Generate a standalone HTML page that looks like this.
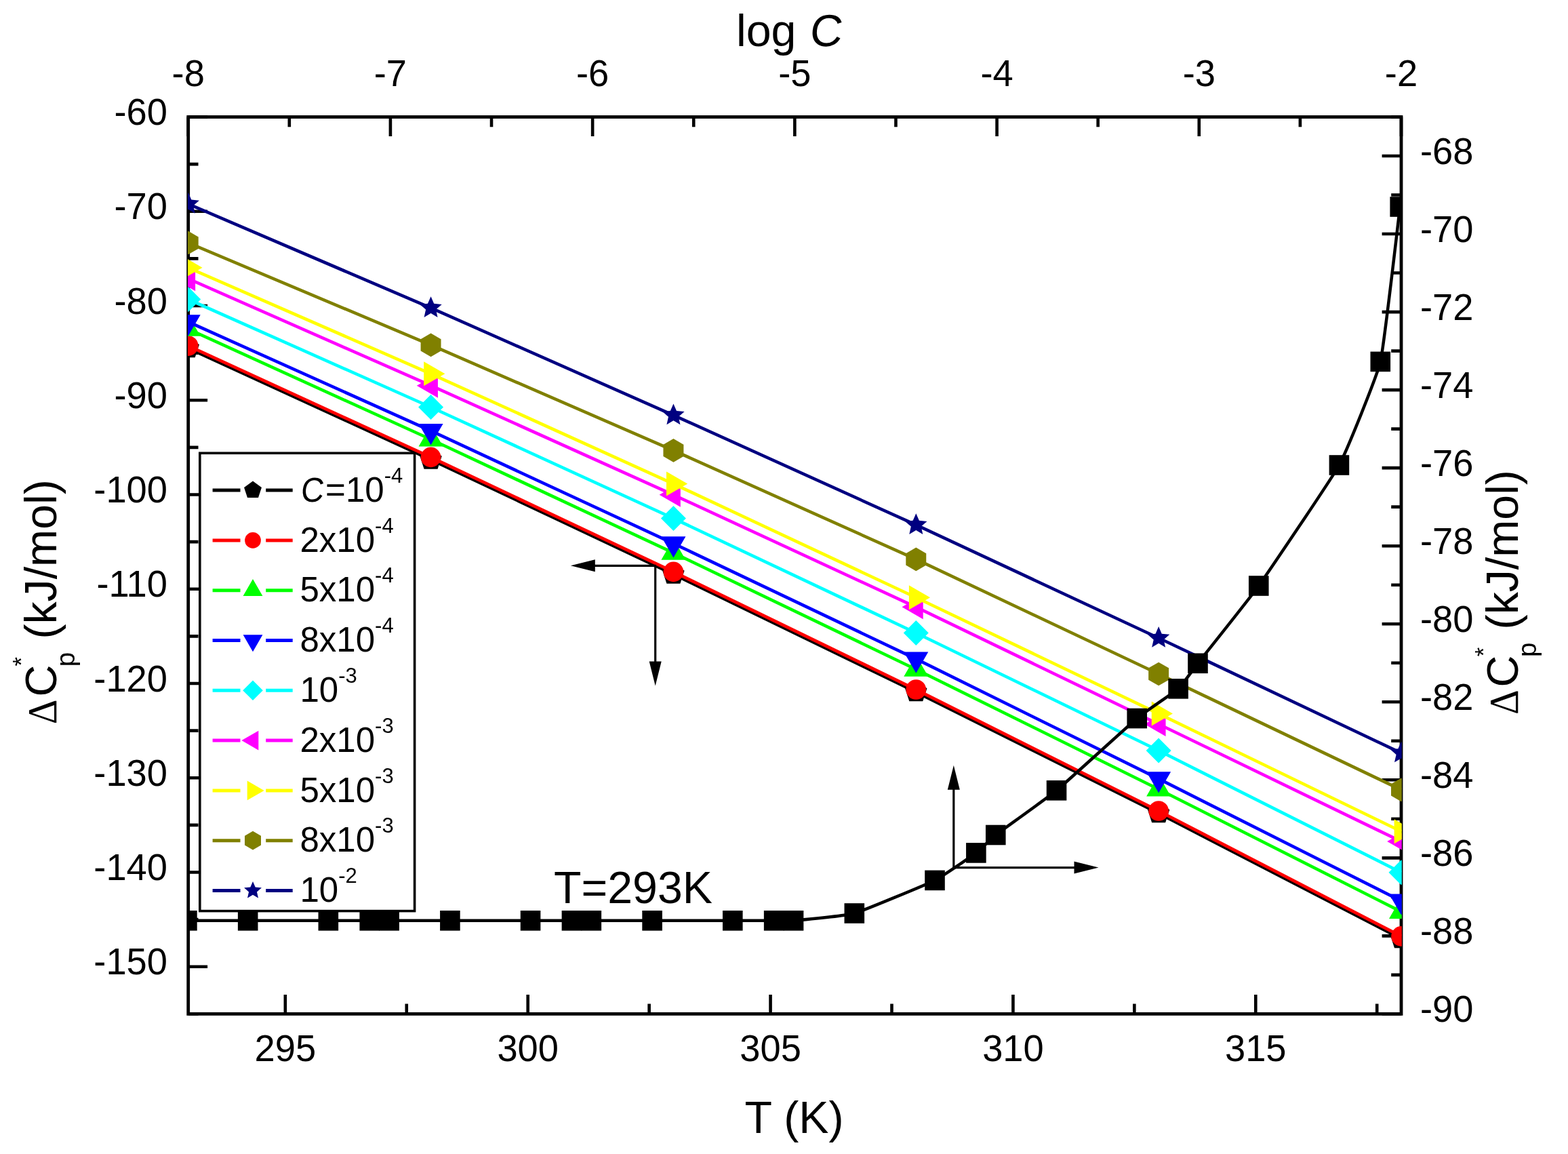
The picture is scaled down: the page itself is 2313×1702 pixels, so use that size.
<!DOCTYPE html><html><head><meta charset="utf-8"><style>html,body{margin:0;padding:0;background:#fff;overflow:hidden}svg{display:block}text{font-family:"Liberation Sans",Arial,sans-serif;fill:#000}</style></head><body>
<svg width="2313" height="1702" viewBox="0 0 2313 1702">
<rect width="2313" height="1702" fill="#fff"/>
<defs><clipPath id="pc"><rect x="277.00" y="172.50" width="1790.80" height="1322.90"/></clipPath></defs>
<rect x="277.70" y="172.50" width="1789.30" height="1322.90" fill="none" stroke="#000" stroke-width="4.8"/>
<path d="M420.84,1495.40L420.84,1467.00 M778.70,1495.40L778.70,1467.00 M1136.56,1495.40L1136.56,1467.00 M1494.42,1495.40L1494.42,1467.00 M1852.28,1495.40L1852.28,1467.00 M599.77,1495.40L599.77,1480.60 M957.63,1495.40L957.63,1480.60 M1315.49,1495.40L1315.49,1480.60 M1673.35,1495.40L1673.35,1480.60 M2031.21,1495.40L2031.21,1480.60 M277.70,172.50L306.10,172.50 M277.70,311.75L306.10,311.75 M277.70,451.01L306.10,451.01 M277.70,590.26L306.10,590.26 M277.70,729.51L306.10,729.51 M277.70,868.76L306.10,868.76 M277.70,1008.02L306.10,1008.02 M277.70,1147.27L306.10,1147.27 M277.70,1286.52L306.10,1286.52 M277.70,1425.77L306.10,1425.77 M277.70,242.13L292.50,242.13 M277.70,381.38L292.50,381.38 M277.70,520.63L292.50,520.63 M277.70,659.88L292.50,659.88 M277.70,799.14L292.50,799.14 M277.70,938.39L292.50,938.39 M277.70,1077.64L292.50,1077.64 M277.70,1216.89L292.50,1216.89 M277.70,1356.15L292.50,1356.15 M277.70,1495.40L292.50,1495.40" stroke="#000" stroke-width="4.6" fill="none"/>
<path d="M277.70,172.50L277.70,200.90 M575.92,172.50L575.92,200.90 M874.13,172.50L874.13,200.90 M1172.35,172.50L1172.35,200.90 M1470.57,172.50L1470.57,200.90 M1768.78,172.50L1768.78,200.90 M2067.00,172.50L2067.00,200.90 M426.81,172.50L426.81,187.30 M725.02,172.50L725.02,187.30 M1023.24,172.50L1023.24,187.30 M1321.46,172.50L1321.46,187.30 M1619.67,172.50L1619.67,187.30 M1917.89,172.50L1917.89,187.30 M2067.00,230.02L2038.60,230.02 M2067.00,345.05L2038.60,345.05 M2067.00,460.09L2038.60,460.09 M2067.00,575.12L2038.60,575.12 M2067.00,690.16L2038.60,690.16 M2067.00,805.19L2038.60,805.19 M2067.00,920.23L2038.60,920.23 M2067.00,1035.26L2038.60,1035.26 M2067.00,1150.30L2038.60,1150.30 M2067.00,1265.33L2038.60,1265.33 M2067.00,1380.37L2038.60,1380.37 M2067.00,1495.40L2038.60,1495.40 M2067.00,172.50L2052.20,172.50 M2067.00,287.53L2052.20,287.53 M2067.00,402.57L2052.20,402.57 M2067.00,517.60L2052.20,517.60 M2067.00,632.64L2052.20,632.64 M2067.00,747.67L2052.20,747.67 M2067.00,862.71L2052.20,862.71 M2067.00,977.74L2052.20,977.74 M2067.00,1092.78L2052.20,1092.78 M2067.00,1207.81L2052.20,1207.81 M2067.00,1322.85L2052.20,1322.85 M2067.00,1437.88L2052.20,1437.88" stroke="#000" stroke-width="4.6" fill="none"/>
<rect x="294.80" y="668.30" width="316.80" height="675.30" fill="#fff" stroke="#000" stroke-width="3.6"/>
<g clip-path="url(#pc)">
<polyline points="277.70,513.58 635.56,677.90 993.42,846.90 1351.28,1020.57 1709.14,1199.55 2067.00,1384.40" fill="none" stroke="#000000" stroke-width="4.6" stroke-linejoin="round"/>
<polygon points="277.70,496.58 293.87,508.33 287.69,527.34 267.71,527.34 261.53,508.33" fill="#000000"/>
<polygon points="635.56,660.90 651.73,672.65 645.55,691.65 625.57,691.65 619.39,672.65" fill="#000000"/>
<polygon points="993.42,829.90 1009.59,841.64 1003.41,860.65 983.43,860.65 977.25,841.64" fill="#000000"/>
<polygon points="1351.28,1003.57 1367.45,1015.32 1361.27,1034.32 1341.29,1034.32 1335.11,1015.32" fill="#000000"/>
<polygon points="1709.14,1182.55 1725.31,1194.30 1719.13,1213.30 1699.15,1213.30 1692.97,1194.30" fill="#000000"/>
<polygon points="2067.00,1367.40 2083.17,1379.15 2076.99,1398.15 2057.01,1398.15 2050.83,1379.15" fill="#000000"/>
<polyline points="277.70,510.08 635.56,674.40 993.42,843.40 1351.28,1017.07 1709.14,1196.05 2067.00,1380.90" fill="none" stroke="#FF0000" stroke-width="4.6" stroke-linejoin="round"/>
<circle cx="277.70" cy="510.08" r="14.80" fill="#FF0000"/>
<circle cx="635.56" cy="674.40" r="14.80" fill="#FF0000"/>
<circle cx="993.42" cy="843.40" r="14.80" fill="#FF0000"/>
<circle cx="1351.28" cy="1017.07" r="14.80" fill="#FF0000"/>
<circle cx="1709.14" cy="1196.05" r="14.80" fill="#FF0000"/>
<circle cx="2067.00" cy="1380.90" r="14.80" fill="#FF0000"/>
<polyline points="277.70,485.28 635.56,648.02 993.42,815.41 1351.28,987.24 1709.14,1164.00 2067.00,1344.64" fill="none" stroke="#00FF00" stroke-width="4.6" stroke-linejoin="round"/>
<polygon points="277.70,464.48 295.71,495.68 259.69,495.68" fill="#00FF00"/>
<polygon points="635.56,627.22 653.57,658.42 617.55,658.42" fill="#00FF00"/>
<polygon points="993.42,794.61 1011.43,825.81 975.41,825.81" fill="#00FF00"/>
<polygon points="1351.28,966.44 1369.29,997.64 1333.27,997.64" fill="#00FF00"/>
<polygon points="1709.14,1143.20 1727.15,1174.40 1691.13,1174.40" fill="#00FF00"/>
<polygon points="2067.00,1323.84 2085.01,1355.04 2048.99,1355.04" fill="#00FF00"/>
<polyline points="277.70,474.68 635.56,635.45 993.42,801.63 1351.28,971.89 1709.14,1148.68 2067.00,1328.78" fill="none" stroke="#0000FF" stroke-width="4.6" stroke-linejoin="round"/>
<polygon points="277.70,495.48 259.69,464.28 295.71,464.28" fill="#0000FF"/>
<polygon points="635.56,656.25 617.55,625.05 653.57,625.05" fill="#0000FF"/>
<polygon points="993.42,822.43 975.41,791.23 1011.43,791.23" fill="#0000FF"/>
<polygon points="1351.28,992.69 1333.27,961.49 1369.29,961.49" fill="#0000FF"/>
<polygon points="1709.14,1169.48 1691.13,1138.28 1727.15,1138.28" fill="#0000FF"/>
<polygon points="2067.00,1349.58 2048.99,1318.38 2085.01,1318.38" fill="#0000FF"/>
<polyline points="277.70,441.43 635.56,600.48 993.42,764.54 1351.28,933.54 1709.14,1106.99 2067.00,1286.71" fill="none" stroke="#00FFFF" stroke-width="4.6" stroke-linejoin="round"/>
<polygon points="277.70,422.93 296.20,441.43 277.70,459.93 259.20,441.43" fill="#00FFFF"/>
<polygon points="635.56,581.98 654.06,600.48 635.56,618.98 617.06,600.48" fill="#00FFFF"/>
<polygon points="993.42,746.04 1011.92,764.54 993.42,783.04 974.92,764.54" fill="#00FFFF"/>
<polygon points="1351.28,915.04 1369.78,933.54 1351.28,952.04 1332.78,933.54" fill="#00FFFF"/>
<polygon points="1709.14,1088.49 1727.64,1106.99 1709.14,1125.49 1690.64,1106.99" fill="#00FFFF"/>
<polygon points="2067.00,1268.21 2085.50,1286.71 2067.00,1305.21 2048.50,1286.71" fill="#00FFFF"/>
<polyline points="277.70,411.16 635.56,568.68 993.42,729.81 1351.28,895.35 1709.14,1068.02 2067.00,1241.03" fill="none" stroke="#FF00FF" stroke-width="4.6" stroke-linejoin="round"/>
<polygon points="256.90,411.16 288.10,393.15 288.10,429.17" fill="#FF00FF"/>
<polygon points="614.76,568.68 645.96,550.67 645.96,586.70" fill="#FF00FF"/>
<polygon points="972.62,729.81 1003.82,711.80 1003.82,747.83" fill="#FF00FF"/>
<polygon points="1330.48,895.35 1361.68,877.34 1361.68,913.36" fill="#FF00FF"/>
<polygon points="1688.34,1068.02 1719.54,1050.01 1719.54,1086.03" fill="#FF00FF"/>
<polygon points="2046.20,1241.03 2077.40,1223.02 2077.40,1259.05" fill="#FF00FF"/>
<polyline points="277.70,394.75 635.56,551.31 993.42,713.58 1351.28,881.28 1709.14,1052.60 2067.00,1226.28" fill="none" stroke="#FFFF00" stroke-width="4.6" stroke-linejoin="round"/>
<polygon points="298.50,394.75 267.30,412.77 267.30,376.74" fill="#FFFF00"/>
<polygon points="656.36,551.31 625.16,569.32 625.16,533.29" fill="#FFFF00"/>
<polygon points="1014.22,713.58 983.02,731.59 983.02,695.56" fill="#FFFF00"/>
<polygon points="1372.08,881.28 1340.88,899.30 1340.88,863.27" fill="#FFFF00"/>
<polygon points="1729.94,1052.60 1698.74,1070.62 1698.74,1034.59" fill="#FFFF00"/>
<polygon points="2087.80,1226.28 2056.60,1244.29 2056.60,1208.26" fill="#FFFF00"/>
<polyline points="277.70,358.04 635.56,508.85 993.42,664.33 1351.28,824.90 1709.14,993.99 2067.00,1164.88" fill="none" stroke="#808000" stroke-width="4.6" stroke-linejoin="round"/>
<polygon points="277.70,340.74 292.68,349.39 292.68,366.69 277.70,375.34 262.72,366.69 262.72,349.39" fill="#808000"/>
<polygon points="635.56,491.55 650.54,500.20 650.54,517.50 635.56,526.15 620.58,517.50 620.58,500.20" fill="#808000"/>
<polygon points="993.42,647.03 1008.40,655.68 1008.40,672.98 993.42,681.63 978.44,672.98 978.44,655.68" fill="#808000"/>
<polygon points="1351.28,807.60 1366.26,816.25 1366.26,833.55 1351.28,842.20 1336.30,833.55 1336.30,816.25" fill="#808000"/>
<polygon points="1709.14,976.69 1724.12,985.34 1724.12,1002.64 1709.14,1011.29 1694.16,1002.64 1694.16,985.34" fill="#808000"/>
<polygon points="2067.00,1147.58 2081.98,1156.23 2081.98,1173.53 2067.00,1182.18 2052.02,1173.53 2052.02,1156.23" fill="#808000"/>
<polyline points="277.70,300.92 635.56,454.13 993.42,612.38 1351.28,774.17 1709.14,940.99 2067.00,1110.60" fill="none" stroke="#000080" stroke-width="4.6" stroke-linejoin="round"/>
<polygon points="277.70,283.92 282.30,294.59 293.87,295.67 285.14,303.34 287.69,314.67 277.70,308.74 267.71,314.67 270.26,303.34 261.53,295.67 273.10,294.59" fill="#000080"/>
<polygon points="635.56,437.13 640.16,447.81 651.73,448.88 643.00,456.55 645.55,467.89 635.56,461.95 625.57,467.89 628.12,456.55 619.39,448.88 630.96,447.81" fill="#000080"/>
<polygon points="993.42,595.38 998.02,606.05 1009.59,607.12 1000.86,614.79 1003.41,626.13 993.42,620.20 983.43,626.13 985.98,614.79 977.25,607.12 988.82,606.05" fill="#000080"/>
<polygon points="1351.28,757.17 1355.88,767.85 1367.45,768.92 1358.72,776.59 1361.27,787.93 1351.28,781.99 1341.29,787.93 1343.84,776.59 1335.11,768.92 1346.68,767.85" fill="#000080"/>
<polygon points="1709.14,923.99 1713.74,934.67 1725.31,935.74 1716.58,943.41 1719.13,954.75 1709.14,948.81 1699.15,954.75 1701.70,943.41 1692.97,935.74 1704.54,934.67" fill="#000080"/>
<polygon points="2067.00,1093.60 2071.60,1104.28 2083.17,1105.35 2074.44,1113.02 2076.99,1124.36 2067.00,1118.42 2057.01,1124.36 2059.56,1113.02 2050.83,1105.35 2062.40,1104.28" fill="#000080"/>
</g>
<g clip-path="url(#pc)">
<path d="M275.90,1357.80 C281.14,1357.80 353.51,1357.80 365.67,1357.80 C377.83,1357.80 473.87,1357.80 484.34,1357.80 C494.82,1357.80 539.98,1357.80 545.22,1357.80 C550.45,1357.80 567.19,1357.80 574.12,1357.80 C581.04,1357.80 651.73,1357.80 663.89,1357.80 C676.05,1357.80 772.09,1357.80 782.56,1357.80 C793.03,1357.80 838.20,1357.80 843.43,1357.80 C848.67,1357.80 865.41,1357.80 872.33,1357.80 C879.26,1357.80 949.95,1357.80 962.11,1357.80 C974.26,1357.80 1070.30,1357.80 1080.78,1357.80 C1091.25,1357.80 1136.41,1357.80 1141.65,1357.80 C1146.89,1357.80 1163.63,1358.43 1170.55,1357.80 C1177.47,1357.17 1248.16,1350.46 1260.32,1347.00 C1272.48,1343.54 1368.52,1303.60 1378.99,1298.40 C1389.47,1293.20 1434.63,1261.80 1439.87,1257.90 C1445.10,1254.00 1461.84,1236.87 1468.77,1231.50 C1475.69,1226.13 1546.38,1175.83 1558.54,1165.80 C1570.70,1155.77 1666.74,1068.25 1677.21,1059.50 C1687.68,1050.75 1732.85,1020.54 1738.08,1015.80 C1743.32,1011.06 1760.06,987.15 1766.98,978.30 C1773.91,969.44 1844.60,881.05 1856.76,864.00 C1868.91,846.95 1964.95,705.28 1975.43,686.00 C1985.90,666.72 2031.06,555.62 2036.30,533.40 C2041.54,511.17 2063.51,318.32 2065.20,305.00" fill="none" stroke="#000" stroke-width="4.5" stroke-linejoin="round"/>
<rect x="261.10" y="1343.00" width="29.60" height="29.60" fill="#000"/>
<rect x="350.87" y="1343.00" width="29.60" height="29.60" fill="#000"/>
<rect x="469.54" y="1343.00" width="29.60" height="29.60" fill="#000"/>
<rect x="530.42" y="1343.00" width="29.60" height="29.60" fill="#000"/>
<rect x="559.32" y="1343.00" width="29.60" height="29.60" fill="#000"/>
<rect x="649.09" y="1343.00" width="29.60" height="29.60" fill="#000"/>
<rect x="767.76" y="1343.00" width="29.60" height="29.60" fill="#000"/>
<rect x="828.63" y="1343.00" width="29.60" height="29.60" fill="#000"/>
<rect x="857.53" y="1343.00" width="29.60" height="29.60" fill="#000"/>
<rect x="947.31" y="1343.00" width="29.60" height="29.60" fill="#000"/>
<rect x="1065.98" y="1343.00" width="29.60" height="29.60" fill="#000"/>
<rect x="1126.85" y="1343.00" width="29.60" height="29.60" fill="#000"/>
<rect x="1155.75" y="1343.00" width="29.60" height="29.60" fill="#000"/>
<rect x="1245.52" y="1332.20" width="29.60" height="29.60" fill="#000"/>
<rect x="1364.19" y="1283.60" width="29.60" height="29.60" fill="#000"/>
<rect x="1425.07" y="1243.10" width="29.60" height="29.60" fill="#000"/>
<rect x="1453.97" y="1216.70" width="29.60" height="29.60" fill="#000"/>
<rect x="1543.74" y="1151.00" width="29.60" height="29.60" fill="#000"/>
<rect x="1662.41" y="1044.70" width="29.60" height="29.60" fill="#000"/>
<rect x="1723.28" y="1001.00" width="29.60" height="29.60" fill="#000"/>
<rect x="1752.18" y="963.50" width="29.60" height="29.60" fill="#000"/>
<rect x="1841.96" y="849.20" width="29.60" height="29.60" fill="#000"/>
<rect x="1960.63" y="671.20" width="29.60" height="29.60" fill="#000"/>
<rect x="2021.50" y="518.60" width="29.60" height="29.60" fill="#000"/>
<rect x="2050.40" y="290.20" width="29.60" height="29.60" fill="#000"/>
</g>
<text transform="translate(420.84,1564.70) scale(1,1.025)" font-size="54.3" text-anchor="middle">295</text>
<text transform="translate(778.70,1564.70) scale(1,1.025)" font-size="54.3" text-anchor="middle">300</text>
<text transform="translate(1136.56,1564.70) scale(1,1.025)" font-size="54.3" text-anchor="middle">305</text>
<text transform="translate(1494.42,1564.70) scale(1,1.025)" font-size="54.3" text-anchor="middle">310</text>
<text transform="translate(1852.28,1564.70) scale(1,1.025)" font-size="54.3" text-anchor="middle">315</text>
<text transform="translate(277.70,127.00) scale(1,1.025)" font-size="54.3" text-anchor="middle">-8</text>
<text transform="translate(575.92,127.00) scale(1,1.025)" font-size="54.3" text-anchor="middle">-7</text>
<text transform="translate(874.13,127.00) scale(1,1.025)" font-size="54.3" text-anchor="middle">-6</text>
<text transform="translate(1172.35,127.00) scale(1,1.025)" font-size="54.3" text-anchor="middle">-5</text>
<text transform="translate(1470.57,127.00) scale(1,1.025)" font-size="54.3" text-anchor="middle">-4</text>
<text transform="translate(1768.78,127.00) scale(1,1.025)" font-size="54.3" text-anchor="middle">-3</text>
<text transform="translate(2067.00,127.00) scale(1,1.025)" font-size="54.3" text-anchor="middle">-2</text>
<text transform="translate(247.00,184.00) scale(1,1.025)" font-size="54.3" text-anchor="end">-60</text>
<text transform="translate(247.00,323.25) scale(1,1.025)" font-size="54.3" text-anchor="end">-70</text>
<text transform="translate(247.00,462.51) scale(1,1.025)" font-size="54.3" text-anchor="end">-80</text>
<text transform="translate(247.00,601.76) scale(1,1.025)" font-size="54.3" text-anchor="end">-90</text>
<text transform="translate(247.00,741.01) scale(1,1.025)" font-size="54.3" text-anchor="end">-100</text>
<text transform="translate(247.00,880.26) scale(1,1.025)" font-size="54.3" text-anchor="end">-110</text>
<text transform="translate(247.00,1019.52) scale(1,1.025)" font-size="54.3" text-anchor="end">-120</text>
<text transform="translate(247.00,1158.77) scale(1,1.025)" font-size="54.3" text-anchor="end">-130</text>
<text transform="translate(247.00,1298.02) scale(1,1.025)" font-size="54.3" text-anchor="end">-140</text>
<text transform="translate(247.00,1437.27) scale(1,1.025)" font-size="54.3" text-anchor="end">-150</text>
<text transform="translate(2095.00,242.02) scale(1,1.025)" font-size="54.3" text-anchor="start">-68</text>
<text transform="translate(2095.00,357.05) scale(1,1.025)" font-size="54.3" text-anchor="start">-70</text>
<text transform="translate(2095.00,472.09) scale(1,1.025)" font-size="54.3" text-anchor="start">-72</text>
<text transform="translate(2095.00,587.12) scale(1,1.025)" font-size="54.3" text-anchor="start">-74</text>
<text transform="translate(2095.00,702.16) scale(1,1.025)" font-size="54.3" text-anchor="start">-76</text>
<text transform="translate(2095.00,817.19) scale(1,1.025)" font-size="54.3" text-anchor="start">-78</text>
<text transform="translate(2095.00,932.23) scale(1,1.025)" font-size="54.3" text-anchor="start">-80</text>
<text transform="translate(2095.00,1047.26) scale(1,1.025)" font-size="54.3" text-anchor="start">-82</text>
<text transform="translate(2095.00,1162.30) scale(1,1.025)" font-size="54.3" text-anchor="start">-84</text>
<text transform="translate(2095.00,1277.33) scale(1,1.025)" font-size="54.3" text-anchor="start">-86</text>
<text transform="translate(2095.00,1392.37) scale(1,1.025)" font-size="54.3" text-anchor="start">-88</text>
<text transform="translate(2095.00,1507.40) scale(1,1.025)" font-size="54.3" text-anchor="start">-90</text>
<text x="1171.5" y="1670.7" font-size="66.3" text-anchor="middle">T (K)</text>
<text x="1086" y="67.6" font-size="66.3">log</text>
<text transform="translate(1192.9,67.6) skewX(-6)" font-size="66.3">C</text>
<g transform="translate(83.00,1066.10) rotate(-90)"><text transform="translate(-2.12,0) scale(0.92,1)" font-size="62" style="font-family:'Liberation Serif',serif">Δ</text><text x="38.5" y="0" font-size="65">C</text><text x="83.7" y="-39.9" font-size="35">*</text><text x="82.9" y="27" font-size="38.5">p</text><text x="123.5" y="0" font-size="66.2">(kJ/mol)</text></g>
<g transform="translate(2239.40,1051.90) rotate(-90)"><text transform="translate(-2.12,0) scale(0.92,1)" font-size="62" style="font-family:'Liberation Serif',serif">Δ</text><text x="38.5" y="0" font-size="65">C</text><text x="83.7" y="-39.9" font-size="35">*</text><text x="82.9" y="27" font-size="38.5">p</text><text x="123.5" y="0" font-size="66.2">(kJ/mol)</text></g>
<path d="M313.6,723.10L354.5,723.10M392.2,723.10L431.7,723.10" stroke="#000000" stroke-width="5"/>
<polygon points="373.00,709.50 385.93,718.90 380.99,734.10 365.01,734.10 360.07,718.90" fill="#000000"/>
<text transform="translate(442.6,739.70) skewX(-6) scale(0.92,1)" font-size="51">C</text>
<text x="480.12" y="739.70" font-size="51">=10<tspan font-size="31" dy="-28">-4</tspan></text>
<path d="M313.6,796.90L354.5,796.90M392.2,796.90L431.7,796.90" stroke="#FF0000" stroke-width="5"/>
<circle cx="373.00" cy="796.90" r="11.84" fill="#FF0000"/>
<text x="442.5" y="813.50" font-size="51">2x10<tspan font-size="31" dy="-28">-4</tspan></text>
<path d="M313.6,870.70L354.5,870.70M392.2,870.70L431.7,870.70" stroke="#00FF00" stroke-width="5"/>
<polygon points="373.00,854.06 387.41,879.02 358.59,879.02" fill="#00FF00"/>
<text x="442.5" y="887.30" font-size="51">5x10<tspan font-size="31" dy="-28">-4</tspan></text>
<path d="M313.6,944.50L354.5,944.50M392.2,944.50L431.7,944.50" stroke="#0000FF" stroke-width="5"/>
<polygon points="373.00,961.14 358.59,936.18 387.41,936.18" fill="#0000FF"/>
<text x="442.5" y="961.10" font-size="51">8x10<tspan font-size="31" dy="-28">-4</tspan></text>
<path d="M313.6,1018.30L354.5,1018.30M392.2,1018.30L431.7,1018.30" stroke="#00FFFF" stroke-width="5"/>
<polygon points="373.00,1003.50 387.80,1018.30 373.00,1033.10 358.20,1018.30" fill="#00FFFF"/>
<text x="442.5" y="1034.90" font-size="51">10<tspan font-size="31" dy="-28">-3</tspan></text>
<path d="M313.6,1092.10L354.5,1092.10M392.2,1092.10L431.7,1092.10" stroke="#FF00FF" stroke-width="5"/>
<polygon points="356.36,1092.10 381.32,1077.69 381.32,1106.51" fill="#FF00FF"/>
<text x="442.5" y="1108.70" font-size="51">2x10<tspan font-size="31" dy="-28">-3</tspan></text>
<path d="M313.6,1165.90L354.5,1165.90M392.2,1165.90L431.7,1165.90" stroke="#FFFF00" stroke-width="5"/>
<polygon points="389.64,1165.90 364.68,1180.31 364.68,1151.49" fill="#FFFF00"/>
<text x="442.5" y="1182.50" font-size="51">5x10<tspan font-size="31" dy="-28">-3</tspan></text>
<path d="M313.6,1239.70L354.5,1239.70M392.2,1239.70L431.7,1239.70" stroke="#808000" stroke-width="5"/>
<polygon points="373.00,1225.86 384.99,1232.78 384.99,1246.62 373.00,1253.54 361.01,1246.62 361.01,1232.78" fill="#808000"/>
<text x="442.5" y="1256.30" font-size="51">8x10<tspan font-size="31" dy="-28">-3</tspan></text>
<path d="M313.6,1313.50L354.5,1313.50M392.2,1313.50L431.7,1313.50" stroke="#000080" stroke-width="5"/>
<polygon points="373.00,1299.90 376.68,1308.44 385.93,1309.30 378.95,1315.43 380.99,1324.50 373.00,1319.76 365.01,1324.50 367.05,1315.43 360.07,1309.30 369.32,1308.44" fill="#000080"/>
<text x="442.5" y="1330.10" font-size="51">10<tspan font-size="31" dy="-28">-2</tspan></text>
<path d="M967.50,834.30L875.80,834.30" stroke="#000" stroke-width="3.2"/><polygon points="841.80,834.30 877.80,825.30 877.80,843.30" fill="#000"/>
<path d="M966.70,834.30L966.70,977.60" stroke="#000" stroke-width="3.2"/><polygon points="966.70,1011.60 957.70,975.60 975.70,975.60" fill="#000"/>
<path d="M1406.80,1279.60L1406.80,1162.70" stroke="#000" stroke-width="3.2"/><polygon points="1406.80,1128.70 1415.80,1164.70 1397.80,1164.70" fill="#000"/>
<path d="M1406.80,1279.60L1586.50,1279.60" stroke="#000" stroke-width="3.2"/><polygon points="1620.50,1279.60 1584.50,1288.60 1584.50,1270.60" fill="#000"/>
<text x="817" y="1331.9" font-size="66.3">T=293K</text>
</svg></body></html>
